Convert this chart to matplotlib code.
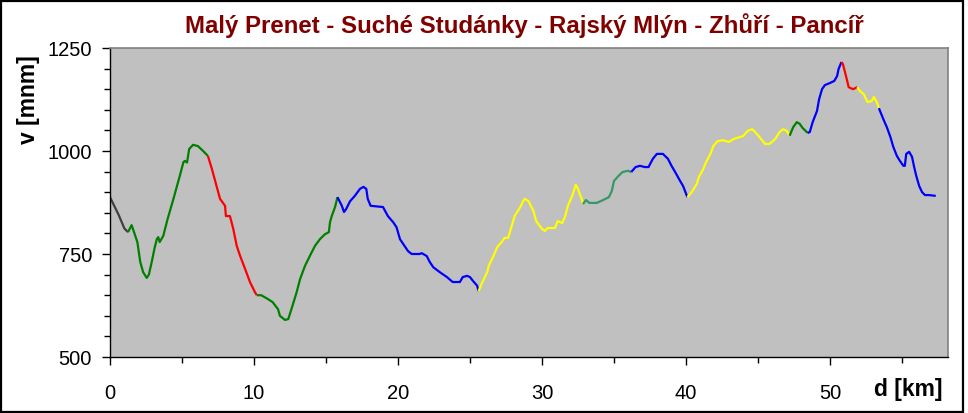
import matplotlib
matplotlib.use("Agg")
import matplotlib.pyplot as plt
from matplotlib.ticker import MultipleLocator
from matplotlib.patches import Rectangle
import numpy as np

plt.rcParams['font.family'] = ['Liberation Sans', 'DejaVu Sans']

# Profile (distance km, elevation m)
dist = [0, 0.6, 1.0, 1.25,
        1.5, 1.65, 1.9, 2.1, 2.3, 2.55, 2.7, 2.9, 3.1, 3.25, 3.35, 3.45, 3.7, 4.0, 4.4, 4.85,
        5.1, 5.2, 5.35, 5.5, 5.77, 6.1, 6.47, 6.8,
        7.08, 7.4, 7.64, 7.99, 8.05, 8.33, 8.56, 8.8, 9.03, 9.38, 9.72, 10.07, 10.2,
        10.5, 10.95, 11.3, 11.67, 11.8, 12.15, 12.38, 12.6, 12.96, 13.2, 13.54, 13.89, 14.24,
        14.58, 14.93, 15.2, 15.28, 15.4, 15.63, 15.8,
        16.1, 16.25, 16.4, 16.67, 17.0, 17.36, 17.6, 17.8, 17.9, 18.1, 18.96, 19.3, 19.67,
        19.9, 20.14, 20.37, 20.7, 20.95, 21.5, 21.65, 22.0, 22.2, 22.45, 22.9, 23.4, 23.8,
        24.3, 24.5, 24.8, 25.0, 25.2, 25.5, 25.6,
        25.8, 26.2, 26.3, 26.6, 26.9, 27.2, 27.4, 27.65, 27.9, 28.1, 28.5, 28.7, 28.8, 29.05,
        29.4, 29.6, 30.0, 30.2, 30.4, 30.9, 31.1, 31.4, 31.6, 31.8, 32.1, 32.35, 32.5, 32.8, 32.85,
        33.05, 33.3, 33.8, 34.25, 34.65, 34.85, 35.0, 35.3, 35.6, 35.97, 36.2,
        36.5, 36.8, 37.15, 37.4, 37.7, 37.98, 38.4, 38.75, 39.0, 39.25, 39.6, 39.8, 40.1,
        40.4, 40.75, 40.9, 41.2, 41.4, 41.7, 41.9, 42.2, 42.55, 43.0, 43.3, 43.75, 43.96, 44.3,
        44.6, 44.8, 45.1, 45.5, 45.8, 46.2, 46.5, 46.75, 47.0, 47.2,
        47.45, 47.7, 47.9, 48.1, 48.45,
        48.6, 48.8, 49.1, 49.25, 49.45, 49.65, 50.0, 50.3, 50.5, 50.6, 50.8,
        50.9, 51.05, 51.2, 51.3, 51.6, 51.9,
        52.1, 52.35, 52.6, 52.9, 53.05, 53.25, 53.4,
        53.7, 53.95, 54.2, 54.4, 54.65, 54.86, 55.1, 55.2, 55.3, 55.5, 55.7, 55.85, 56.0, 56.2,
        56.4, 56.6, 56.9, 57.35]
elev = [888, 845, 812, 803,
        820, 805, 779, 731, 706, 692, 700, 731, 765, 786, 791, 779, 794, 835, 883, 940,
        973, 976, 972, 1005, 1015, 1012, 1000, 988,
        956, 915, 884, 867, 842, 842, 811, 770, 746, 714, 682, 657, 650,
        650, 641, 633, 616, 600, 590, 592, 616, 657, 689, 721, 746, 770,
        786, 798, 803, 827, 842, 864, 888,
        867, 852, 859, 878, 891, 908, 913, 908, 884, 867, 864, 842, 827,
        815, 786, 774, 757, 750, 750, 752, 745, 731, 718, 706, 694, 682,
        682, 694, 697, 694, 685, 673, 660,
        677, 706, 721, 743, 767, 779, 789, 789, 818, 842, 864, 879, 884, 879,
        855, 830, 811, 806, 813, 813, 830, 825, 840, 867, 891, 918, 908, 879, 871,
        881, 874, 874, 881, 888, 903, 927, 939, 949, 952, 949,
        961, 964, 961, 961, 981, 993, 993, 981, 964, 949, 927, 915, 888,
        900, 920, 937, 956, 973, 993, 1012, 1024, 1026, 1022, 1029, 1034, 1036, 1049,
        1053, 1046, 1034, 1017, 1017, 1029, 1046, 1053, 1049, 1037,
        1058, 1070, 1066, 1056, 1044,
        1046, 1070, 1097, 1126, 1150, 1160, 1165, 1170, 1182, 1199, 1216,
        1211, 1191, 1170, 1155, 1150, 1155,
        1145, 1138, 1119, 1121, 1131, 1119, 1104,
        1078, 1058, 1034, 1010, 988, 976, 964, 964, 993, 998, 986, 961, 939, 915,
        900, 893, 893, 891]

# Colour segments: boundaries (km) and colours
seg_breaks = [0, 1.25, 6.8, 10.2, 15.8, 25.6, 32.85, 36.2, 40.1, 47.2, 48.45, 50.8, 51.9, 53.4, 57.35]
seg_colors = ['#404040', '#008000', '#FF0000', '#008000', '#0000FF', '#FFFF00', '#339966',
              '#0000FF', '#FFFF00', '#008000', '#0000FF', '#FF0000', '#FFFF00', '#0000FF']

title = "Malý Prenet - Suché Studánky - Rajský Mlýn - Zhůří - Pancíř"

fig = plt.figure(figsize=(9.68, 4.14), dpi=100)
fig.patch.set_facecolor('white')
ax = fig.add_axes([110/968, 1-358/414, (948-110)/968, (358-49)/414])
ax.set_facecolor('#C0C0C0')

d = np.array(dist)
e = np.array(elev)
for i, c in enumerate(seg_colors):
    lo, hi = seg_breaks[i], seg_breaks[i+1]
    m = (d >= lo - 1e-9) & (d <= hi + 1e-9)
    ax.plot(d[m], e[m], color=c, lw=1.6, solid_capstyle='butt', solid_joinstyle='round')

ax.set_xlim(0, 58.2)
ax.set_ylim(500, 1250)
ax.xaxis.set_major_locator(MultipleLocator(10))
ax.xaxis.set_minor_locator(MultipleLocator(5))
ax.yaxis.set_major_locator(MultipleLocator(250))
ax.yaxis.set_minor_locator(MultipleLocator(50))
ax.tick_params(which='major', direction='out', length=5.5, width=1, color='black',
               labelsize=14.5, labelcolor='black')
ax.tick_params(which='minor', direction='out', length=4.3, width=1, color='black')
ax.tick_params(axis='x', which='major', pad=13.5)
ax.tick_params(axis='y', which='major', pad=7.5)

for s in ['left', 'bottom']:
    ax.spines[s].set_color('black')
    ax.spines[s].set_linewidth(1)
for s in ['top', 'right']:
    ax.spines[s].set_color('#808080')
    ax.spines[s].set_linewidth(1.2)

fig.text(524/968, 1-26/414, title, ha='center', va='center', fontsize=17.3,
         fontweight='bold', color='#800000')
fig.text(28/968, 1-100/414, "v [mnm]", ha='center', va='center', rotation=90,
         fontsize=16.5, fontweight='bold', color='black')
fig.text(943/968, 1-390/414, "d [km]", ha='right', va='center',
         fontsize=16.5, fontweight='bold', color='black')

fig.patches.append(Rectangle((1/968, 1/414), 962/968, 411/414, transform=fig.transFigure,
                             fill=False, edgecolor='black', linewidth=1.6))

fig.savefig('out.png', dpi=100, facecolor='white')
